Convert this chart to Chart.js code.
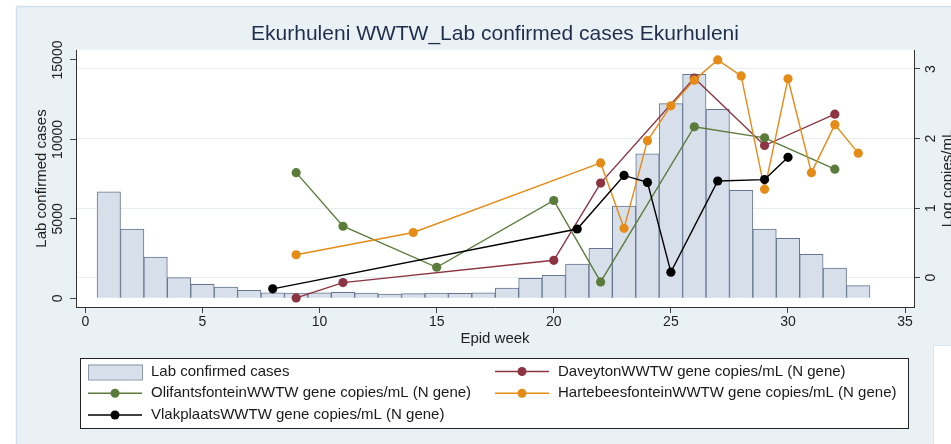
<!DOCTYPE html>
<html>
<head>
<meta charset="utf-8">
<script src="https://cdn.jsdelivr.net/npm/chart.js@4"></script>
<style>
  html, body { margin: 0; padding: 0; background: #ffffff; }
  #wrap { width: 951px; height: 444px; }
</style>
</head>
<body>
<div id="wrap"><canvas id="myChart" width="951" height="444"></canvas></div>
<script>
// lab confirmed cases per epid week (bars, left axis)
const weeks = [1, 2, 3, 4, 5, 6, 7, 8, 9, 10, 11, 12, 13, 14, 15, 16, 17, 18, 19, 20, 21, 22, 23, 24, 25, 26, 27, 28, 29, 30, 31, 32, 33];
const labCases = [6700, 4350, 2600, 1300, 880, 710, 500, 350, 330, 350, 370, 330, 270, 290, 330, 310, 350, 650, 1250, 1450, 2150, 3150, 5800, 9100, 12250, 14100, 11900, 6800, 4350, 3780, 2770, 1900, 800];

// log copies/mL per plant (lines, right axis)
const daveytonWeeks = [9, 11, 20, 22, 26, 29, 32];
const daveyton = [-0.29, -0.07, 0.25, 1.36, 2.87, 1.90, 2.35];

const olifantsWeeks = [9, 11, 15, 20, 22, 26, 29, 32];
const olifants = [1.51, 0.74, 0.15, 1.11, -0.06, 2.17, 2.01, 1.56];

const hartebeesWeeks = [9, 14, 22, 23, 24, 25, 26, 27, 28, 29, 30, 31, 32, 33];
const hartebees = [0.33, 0.65, 1.65, 0.71, 1.97, 2.47, 2.84, 3.13, 2.90, 1.27, 2.86, 1.51, 2.20, 1.79];

const vlakplaatsWeeks = [8, 21, 23, 24, 25, 27, 29, 30];
const vlakplaats = [-0.16, 0.70, 1.47, 1.37, 0.08, 1.39, 1.41, 1.73];

// tick labels
const xTicks = [0, 5, 10, 15, 20, 25, 30, 35];
const casesTicks = [0, 5000, 10000, 15000];
const logTicks = [0, 1, 2, 3];

const FONT = "'Liberation Sans', Arial, sans-serif";
const pts = (xs, ys) => xs.map((x, i) => ({ x: x, y: ys[i] }));

function lineSet(label, xs, ys, color, order) {
  return {
    type: "line",
    label: label,
    data: pts(xs, ys),
    yAxisID: "y1",
    borderColor: color,
    backgroundColor: color,
    borderWidth: 1.4,
    pointRadius: 4.6,
    pointHoverRadius: 4.6,
    pointBorderWidth: 0,
    tension: 0,
    order: order,
  };
}

const datasets = [
  {
    type: "bar",
    label: "Lab confirmed cases",
    data: pts(weeks, labCases),
    yAxisID: "y",
    backgroundColor: "#d7dfea",
    borderColor: "#667690",
    borderWidth: 1,
    borderSkipped: "bottom",
    barPercentage: 1,
    categoryPercentage: 1,
    order: 5,
  },
  lineSet("DaveytonWWTW gene copies/mL (N gene)", daveytonWeeks, daveyton, "#8c3442", 4),
  lineSet("OlifantsfonteinWWTW gene copies/mL (N gene)", olifantsWeeks, olifants, "#5b7b3a", 3),
  lineSet("HartebeesfonteinWWTW gene copies/mL (N gene)", hartebeesWeeks, hartebees, "#e58b17", 2),
  lineSet("VlakplaatsWWTW gene copies/mL (N gene)", vlakplaatsWeeks, vlakplaats, "#000000", 1),
];

// frame, backgrounds
const backdrop = {
  id: "backdrop",
  beforeDraw(chart) {
    const c = chart.ctx, a = chart.chartArea;
    c.save();
    c.fillStyle = "#ffffff";
    c.fillRect(0, 0, chart.width, chart.height);
    c.fillStyle = "#eaf1f5";
    c.fillRect(16, 6, chart.width - 16, chart.height - 6);
    c.strokeStyle = "#cfe0ef";
    c.lineWidth = 1.5;
    c.beginPath();
    c.moveTo(16.5, chart.height);
    c.lineTo(16.5, 6.5);
    c.lineTo(chart.width, 6.5);
    c.stroke();
    c.fillStyle = "#ffffff";
    c.fillRect(a.left, a.top, a.right - a.left, a.bottom - a.top);
    // small white box at bottom right
    c.fillStyle = "#ffffff";
    c.fillRect(933, 345, 18, 99);
    c.strokeStyle = "#d6e6f2";
    c.lineWidth = 1;
    c.strokeRect(933.5, 345.5, 18, 99);
    c.restore();
  },
};

// right axis title (reads bottom to top) and two-column legend
const extras = {
  id: "extras",
  afterDraw(chart) {
    const c = chart.ctx, a = chart.chartArea;
    c.save();
    c.font = "15px " + FONT;
    c.fillStyle = "#222222";
    c.translate(948, (a.top + a.bottom) / 2);
    c.rotate(-Math.PI / 2);
    c.textAlign = "center";
    c.textBaseline = "middle";
    c.fillText("Log copies/mL", 0, 0);
    c.restore();

    c.save();
    c.fillStyle = "#ffffff";
    c.fillRect(80, 358, 828, 70);
    c.strokeStyle = "#222222";
    c.lineWidth = 1;
    c.strokeRect(80.5, 358.5, 828, 70);
    const ds = chart.data.datasets;
    const slots = [
      [0, 88, 371.5], [1, 495, 371.5],
      [2, 88, 393.3], [3, 495, 393.3],
      [4, 88, 415],
    ];
    c.font = "15px " + FONT;
    c.textBaseline = "middle";
    c.textAlign = "left";
    slots.forEach(([i, x, y]) => {
      const d = ds[i];
      if (d.type === "bar") {
        c.fillStyle = d.backgroundColor;
        c.fillRect(x, y - 7, 54, 15);
        c.strokeStyle = "#8a97aa";
        c.strokeRect(x + 0.5, y - 6.5, 54, 15);
      } else {
        c.strokeStyle = d.borderColor;
        c.lineWidth = 1.4;
        c.beginPath();
        c.moveTo(x, y);
        c.lineTo(x + 54, y);
        c.stroke();
        c.fillStyle = d.backgroundColor;
        c.beginPath();
        c.arc(x + 27, y, 4.5, 0, Math.PI * 2);
        c.fill();
      }
      c.fillStyle = "#1a1a1a";
      c.fillText(d.label, x + 63, y);
    });
    c.restore();
  },
};

const tickFont = { family: FONT, size: 14 };
const plain = (v) => String(v);

new Chart(document.getElementById("myChart"), {
  data: { datasets: datasets },
  plugins: [backdrop, extras],
  options: {
    responsive: false,
    devicePixelRatio: 1,
    animation: false,
    layout: { padding: { left: 0, right: 0, top: 0, bottom: 95 } },
    plugins: {
      legend: { display: false },
      tooltip: { enabled: false },
      title: {
        display: true,
        text: "Ekurhuleni WWTW_Lab confirmed cases Ekurhuleni",
        fullSize: false,
        color: "#1f2d4d",
        font: { family: FONT, size: 21, weight: "normal" },
        padding: { top: 21.4, bottom: 3.4 },
      },
    },
    scales: {
      x: {
        type: "linear",
        position: "bottom",
        offset: false,
        min: -0.4,
        max: 35.38,
        afterBuildTicks: (s) => { s.ticks = xTicks.map((v) => ({ value: v })); },
        afterFit: (s) => { s.height = 42; },
        ticks: { color: "#222222", font: tickFont, padding: 1, maxRotation: 0, callback: plain },
        grid: { offset: false, drawOnChartArea: false, drawTicks: true, tickLength: 6, tickColor: "#444444", color: "#444444" },
        border: { color: "#333333", width: 1 },
        title: { display: true, text: "Epid week", color: "#222222", font: { family: FONT, size: 15 }, padding: { top: 0, bottom: 1 } },
      },
      y: {
        type: "linear",
        position: "left",
        min: -548,
        max: 15629,
        afterBuildTicks: (s) => { s.ticks = casesTicks.map((v) => ({ value: v })); },
        afterFit: (s) => { s.width = 76; },
        ticks: { color: "#222222", font: tickFont, minRotation: 90, maxRotation: 90, crossAlign: "center", padding: -8, callback: plain },
        grid: { drawOnChartArea: false, drawTicks: true, tickLength: 6, tickColor: "#444444", color: "#444444" },
        border: { color: "#333333", width: 1 },
        title: { display: true, text: "Lab confirmed cases", color: "#222222", font: { family: FONT, size: 15 }, padding: { top: 33, bottom: 0 } },
      },
      y1: {
        type: "linear",
        position: "right",
        min: -0.421,
        max: 3.273,
        afterBuildTicks: (s) => { s.ticks = logTicks.map((v) => ({ value: v })); },
        afterFit: (s) => { s.width = 37; },
        ticks: { color: "#222222", font: tickFont, minRotation: 90, maxRotation: 90, crossAlign: "center", padding: 7, callback: plain },
        grid: { drawOnChartArea: true, drawTicks: true, tickLength: 6, tickColor: "#444444", color: "#e7eef3" },
        border: { color: "#333333", width: 1 },
      },
    },
  },
});
</script>
</body>
</html>
